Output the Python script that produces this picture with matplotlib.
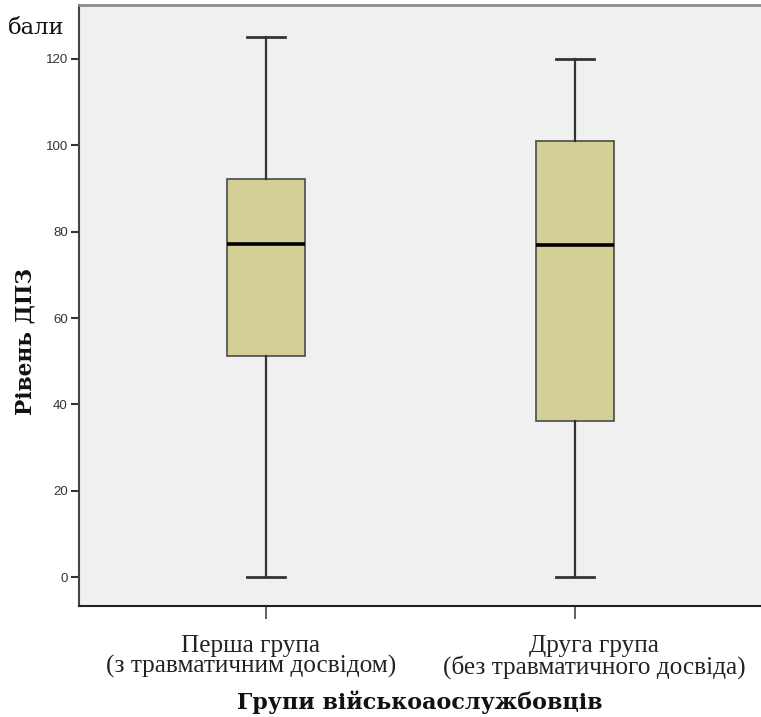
import matplotlib
matplotlib.use("Agg")
import matplotlib.pyplot as plt
from matplotlib.transforms import ScaledTranslation

groups = ["Перша група\n(з травматичним досвідом)", "Друга група\n(без травматичного досвіда)"]
whisker_low = [0, 0]
q1 = [51.3, 36.1]
median = [77.2, 76.8]
q3 = [92.2, 101.1]
whisker_high = [125.0, 120.1]
y_ticks = [0, 20, 40, 60, 80, 100, 120]

fig = plt.figure(figsize=(7.61, 7.17), dpi=100)
ax = fig.add_axes([79/761, 1-606/717, 1-79/761, (606-5)/717])
ax.set_facecolor("#f0f0f0")

stats = []
for i in range(len(groups)):
    stats.append(dict(whislo=whisker_low[i], q1=q1[i], med=median[i], q3=q3[i],
                      whishi=whisker_high[i], fliers=[], label=groups[i]))

ax.bxp(stats, positions=[1, 2], widths=0.25, patch_artist=True, showfliers=False,
       boxprops=dict(facecolor="#d3cf96", edgecolor="#4a4a4a", linewidth=1.2),
       medianprops=dict(color="black", linewidth=2.6),
       whiskerprops=dict(color="#333333", linewidth=1.6),
       capprops=dict(color="#333333", linewidth=2.0),
       capwidths=0.125)

ax.set_xlim(0.395, 2.602)
ax.set_ylim(-6.7, 132.5)
ax.set_yticks(y_ticks)
ax.set_yticklabels([str(v) for v in y_ticks], fontsize=9.5, color="#333333",
                   fontfamily="Liberation Sans")
ax.set_xticks([1, 2])
ax.set_xticklabels(groups, fontsize=18.2, fontfamily="Liberation Serif", color="#222222",
                   linespacing=0.88)
ax.tick_params(axis="x", length=9, width=1.2, color="#444444", pad=12)
ax.tick_params(axis="y", length=6, width=1.5, color="#333333", pad=2)

offsets = [-15, 19]
for lab, dx in zip(ax.get_xticklabels(), offsets):
    lab.set_transform(lab.get_transform() + ScaledTranslation(dx/100, 0, fig.dpi_scale_trans))

ax.spines["right"].set_visible(False)
ax.spines["top"].set_color("#8a8a8a")
ax.spines["top"].set_linewidth(2)
ax.spines["left"].set_color("#444444")
ax.spines["left"].set_linewidth(1.5)
ax.spines["bottom"].set_color("#222222")
ax.spines["bottom"].set_linewidth(1.5)

fig.text(420/761, 1-702/717, "Групи військоаослужбовців", ha="center", va="center",
         fontsize=16, fontweight="bold", fontfamily="DejaVu Serif", color="#111111")
fig.text(26/761, 1-341/717, "Рівень ДПЗ", ha="center", va="center", rotation=90,
         fontsize=15.7, fontweight="bold", fontfamily="DejaVu Serif", color="#111111")
fig.text(8/761, 1-28/717, "бали", ha="left", va="center",
         fontsize=16.3, fontfamily="DejaVu Serif", color="#111111")

fig.savefig("out.png", dpi=100)
